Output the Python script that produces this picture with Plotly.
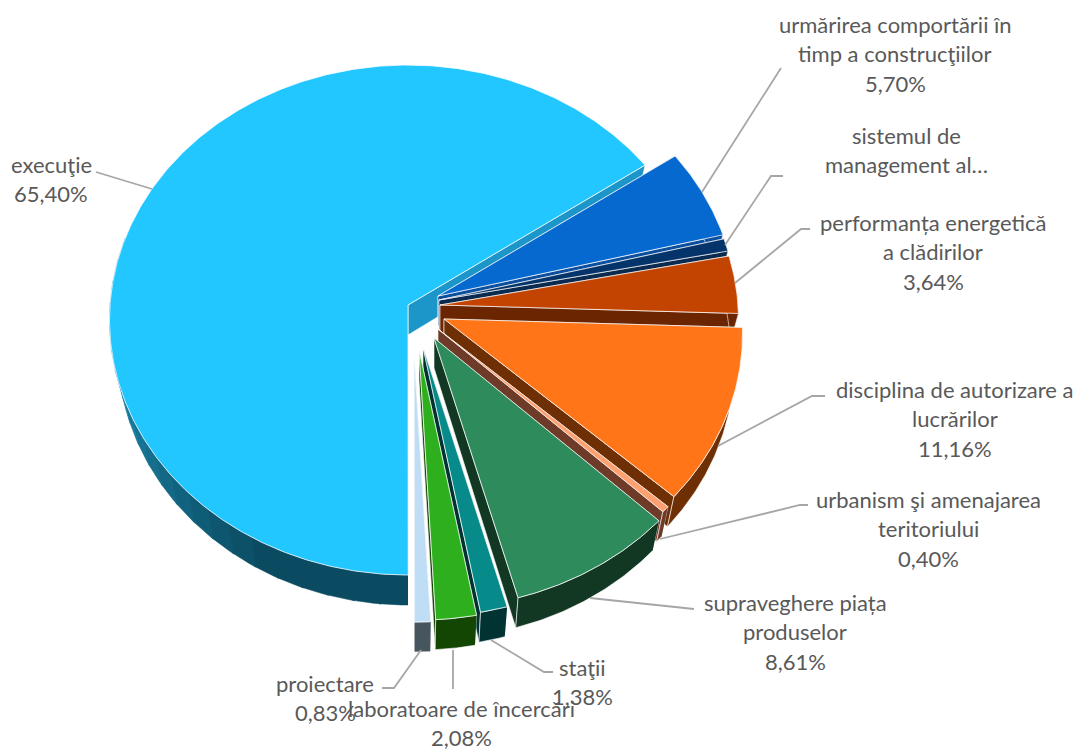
import numpy as np
import plotly.graph_objects as go

# ---- data (share of total, %) ----
labels = [
    "urmărirea comportării în<br>timp a construcţiilor",
    "sistemul de<br>management al…",
    "performanța energetică<br>a clădirilor",
    "disciplina de autorizare a<br>lucrărilor",
    "urbanism şi amenajarea<br>teritoriului",
    "supraveghere piața<br>produselor",
    "staţii",
    "laboratoare de încercări",
    "proiectare",
    "execuţie",
]
values = [5.70, 0.80, 3.64, 11.16, 0.40, 8.61, 1.38, 2.08, 0.83, 65.40]
show_value = [True, False, True, True, True, True, True, True, True, True]

# ---- styles ----
top_colors = ["#0569D0", "#05346A", "#C24400", "#FF7518", "#FFA070",
              "#2E8B5B", "#078A8A", "#2EB01E", "#BFDDF5", "#22C7FF"]
side_colors = ["#0B4F9E", "#0A2A50", "#6B2500", "#6E2F05", "#6E3B28",
               "#123823", "#013333", "#134503", "#47555F", "#1C96C8"]

# ---- 3D pie geometry, in pixels of the 1079x751 page ----
AX, AY = 408, 305
RX, RY, PERSP = 298, 255, 0.059
DEPTH = 30
BOTTOM_SCALE = 0.972
FIRST_ANGLE = 55.4
explode = [(30, -9), (31, -5), (32, 0), (36, 14), (30, 24),
           (26, 33), (15, 42), (11, 45), (6, 47), (0, 0)]
label_pos = [(895, 24), (906, 135), (933, 222), (955, 389), (928, 499),
             (795, 602), (582, 667), (461, 708), (325, 683), (51, 164)]
LINE_STEP = 29.5
leaders = [
    [(702, 192), (781, 68)],
    [(725, 245), (771, 176), (783, 176)],
    [(735, 283), (801, 229), (810, 229)],
    [(718, 446), (812, 396), (825, 396)],
    [(660, 539), (800, 505), (808, 505)],
    [(590, 598), (694, 609)],
    [(491, 640), (544, 672), (553, 672)],
    [(453, 650), (453, 689)],
    [(421, 650), (394, 688), (382, 688)],
    [(152, 189), (96, 172)],
]


def arc(a0, a1, dx=0.0, dy=0.0, scale=1.0):
    th = np.radians(np.linspace(a0, a1, max(2, int(abs(a1 - a0)) * 2 + 2)))
    u, v = np.sin(th), -np.cos(th)
    s = 1 + PERSP * v
    return AX + RX * u * s * scale + dx, AY + RY * v * s + dy


def poly(xs, ys, fill, line=None, width=1.0, name=""):
    return go.Scatter(
        x=list(xs), y=list(ys), mode="lines", fill="toself", fillcolor=fill,
        line=dict(color=line or fill, width=width), hoverinfo="text",
        text=name, showlegend=False,
    )


def hex_mix(c0, c1, t):
    a = [int(c0[i:i + 2], 16) for i in (1, 3, 5)]
    b = [int(c1[i:i + 2], 16) for i in (1, 3, 5)]
    return "#" + "".join(f"{round(p + (q - p) * t):02x}" for p, q in zip(a, b))


EDGE = "rgba(255,255,255,0.75)"
total = sum(values)
spans = [v / total * 360 for v in values]
starts = FIRST_ANGLE + np.concatenate([[0], np.cumsum(spans)[:-1]])

fig = go.Figure()

# draw the big slice first, then the others from the back to the front
for i in [9] + list(range(9)):
    a0, a1 = starts[i], starts[i] + spans[i]
    dx, dy = explode[i]
    ax, ay = AX + dx, AY + dy
    name = labels[i].replace("<br>", " ") + f": {values[i]:.2f}%".replace(".", ",")
    tx, ty = arc(a0, a1, dx, dy)
    bx, by = arc(a0, a1, dx, dy + DEPTH, BOTTOM_SCALE)

    if i == 9:
        # the cut face that looks up and right, and a shaded outer wall
        fig.add_trace(poly([ax, tx[-1], bx[-1], ax, ax],
                           [ay, ty[-1], by[-1], ay + DEPTH, ay],
                           side_colors[i], EDGE, 0.8, name))
        steps = np.linspace(180, 285, 22)
        for k in range(len(steps) - 1):
            wx, wy = arc(steps[k], steps[k + 1] + 0.4, dx, dy)
            vx, vy = arc(steps[k], steps[k + 1] + 0.4, dx, dy + DEPTH, BOTTOM_SCALE)
            t = np.clip((steps[k] - 205) / 60, 0, 1)
            col = hex_mix("#0B4B61", "#1C90B8", t)
            fig.add_trace(poly(np.r_[wx, vx[::-1]], np.r_[wy, vy[::-1]],
                               col, None, 0.5, name))
    else:
        # both cut faces and the outer wall
        for j in (0, -1):
            fig.add_trace(poly([ax, tx[j], bx[j], ax, ax],
                               [ay, ty[j], by[j], ay + DEPTH, ay],
                               side_colors[i], EDGE, 0.8, name))
        fig.add_trace(poly(np.r_[tx, bx[::-1]], np.r_[ty, by[::-1]],
                           side_colors[i], EDGE, 0.8, name))
    # top surface
    fig.add_trace(poly(np.r_[ax, tx, ax], np.r_[ay, ty, ay],
                       top_colors[i], EDGE, 1.0, name))

# leader lines
for pts in leaders:
    fig.add_trace(go.Scatter(
        x=[p[0] for p in pts], y=[p[1] for p in pts], mode="lines",
        line=dict(color="#A6A6A6", width=1.8), hoverinfo="skip", showlegend=False,
    ))

# labels, one annotation per line so the line pitch can follow the reference
annotations = []
for lab, val, show, (lx, ly) in zip(labels, values, show_value, label_pos):
    lines = lab.split("<br>")
    if show:
        lines.append(f"{val:.2f}%".replace(".", ","))
    for k, line in enumerate(lines):
        annotations.append(dict(
            x=lx, y=ly + k * LINE_STEP, xref="x", yref="y", text=line,
            showarrow=False, xanchor="center", yanchor="middle",
            font=dict(family="Lato, Carlito, sans-serif", size=22, color="#595959"),
        ))

fig.update_layout(
    width=1079, height=751, autosize=False,
    margin=dict(l=0, r=0, t=0, b=0),
    paper_bgcolor="white", plot_bgcolor="white", showlegend=False,
    xaxis=dict(range=[0, 1079], visible=False, fixedrange=True),
    yaxis=dict(range=[751, 0], visible=False, fixedrange=True),
    annotations=annotations,
)

fig.write_html("out.html", config={"displayModeBar": False}, post_script=(
    "document.body.style.margin='0';"
))
